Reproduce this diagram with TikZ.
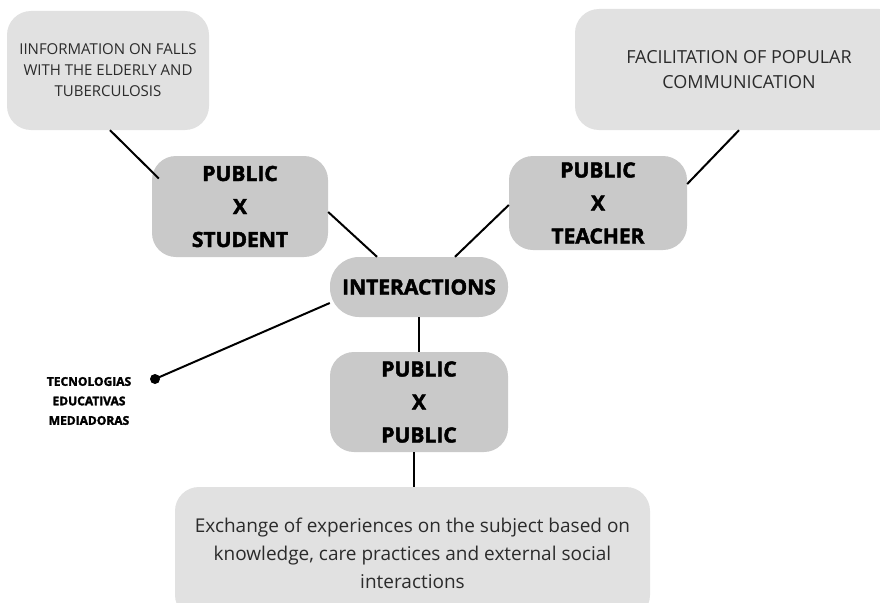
\documentclass[tikz,border=0pt]{standalone}
\usepackage{fontspec}
\setmainfont{Open Sans}
\newfontfamily\heavy{Open Sans}[BoldFeatures={FakeBold=2.2}]
\definecolor{lightbox}{HTML}{E1E1E1}
\definecolor{darkbox}{HTML}{C9C9C9}
\definecolor{txt}{HTML}{2B2B2B}
\begin{document}
\begin{tikzpicture}[x=1pt,y=-1pt,
  light/.style={rectangle, rounded corners=24pt, fill=lightbox, inner sep=0pt, align=center, text=txt},
  dark/.style={rectangle, rounded corners=24pt, fill=darkbox, inner sep=0pt, align=center, text=black,
     font=\heavy\bfseries\fontsize{21}{33}\selectfont},
  link/.style={line width=2pt, black}]
\useasboundingbox (0,0) rectangle (880,602);
\clip (0,0) rectangle (880,602);
\fill[white] (0,0) rectangle (880,602);

\node[light, minimum width=202pt, minimum height=119pt, font=\fontsize{15}{21}\selectfont] (info) at (108,70.5)
  {IINFORMATION ON FALLS\\WITH THE ELDERLY AND\\TUBERCULOSIS};
\node[light, minimum width=328pt, minimum height=121pt, font=\fontsize{18}{25}\selectfont] (facil) at (739,69.5)
  {FACILITATION OF POPULAR\\COMMUNICATION};
\node[dark, minimum width=176pt, minimum height=101pt] (student) at (240,206.5) {PUBLIC\\X\\STUDENT};
\node[dark, minimum width=178pt, minimum height=94pt] (teacher) at (598,203) {PUBLIC\\X\\TEACHER};
\node[dark, minimum width=178pt, minimum height=60pt, rounded corners=29pt] (inter) at (419,287) {INTERACTIONS};
\node[dark, minimum width=178pt, minimum height=100pt] (pub) at (419,402) {PUBLIC\\X\\PUBLIC};
\node[light, minimum width=475pt, minimum height=132pt, font=\fontsize{19}{28}\selectfont] (exch) at (412.5,553)
  {Exchange of experiences on the subject based on\\knowledge, care practices and external social\\interactions};
\node[align=center, inner sep=0pt, font=\heavy\bfseries\fontsize{12}{19.5}\selectfont] (tec) at (89,401)
  {TECNOLOGIAS\\EDUCATIVAS\\MEDIADORAS};
\coordinate (dot) at (155,379);

\draw[link] ([xshift=2pt]info.south) -- ([xshift=7pt,yshift=28pt]student.west);
\draw[link] ([yshift=-5.5pt]student.east) -- ([xshift=-42pt]inter.north);
\draw[link] ([yshift=-2pt]teacher.west) -- ([xshift=36pt]inter.north);
\draw[link] (facil.south) -- ([yshift=19pt]teacher.east);
\draw[link] (inter.south) -- (pub.north);
\draw[link] ([xshift=-5pt]pub.south) -- ([xshift=1.5pt]exch.north);
\draw[link] ([yshift=-16pt]inter.west) -- (dot);
\fill (dot) circle (5pt);
\end{tikzpicture}
\end{document}
